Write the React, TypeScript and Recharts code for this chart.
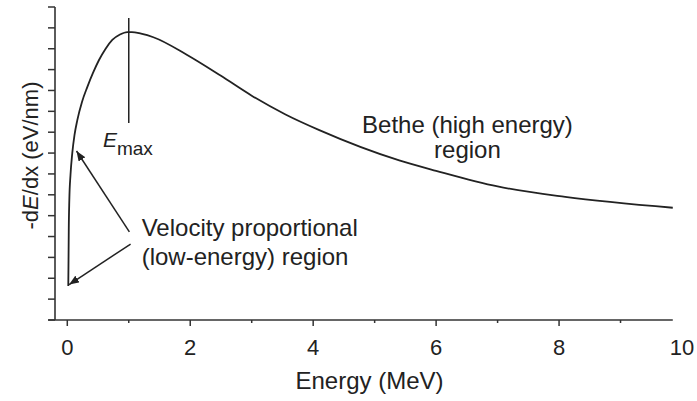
import React from "react";
import {
  LineChart,
  Line,
  XAxis,
  YAxis,
  ReferenceLine,
  ReferenceDot,
} from "recharts";

// Energy (MeV) and stopping power -dE/dx (arbitrary eV/nm units)
const energy = [0.016, 0.02, 0.024, 0.033, 0.052, 0.081, 0.117, 0.163, 0.239, 0.325, 0.418, 0.516, 0.621, 0.732, 0.857, 0.976, 1.05, 1.2, 1.4, 1.95, 2.5, 3.0, 3.55, 4.1, 5.4, 6.0, 7.0, 8.1, 9.85];
const stopping = [1.63, 2.87, 4.31, 5.75, 6.95, 8.0, 8.86, 9.58, 10.45, 11.16, 11.84, 12.46, 12.99, 13.42, 13.68, 13.8, 13.8, 13.72, 13.55, 12.7, 11.7, 10.75, 9.85, 9.1, 7.65, 7.15, 6.4, 5.9, 5.38];

const xTicks = [0, 1, 2, 3, 4, 5, 6, 7, 8, 9, 10];
const yTicks = [0, 1, 2, 3, 4, 5, 6, 7, 8, 9, 10, 11, 12, 13, 14, 15];
const xDomain = [-0.2, 10];
const yDomain = [0, 15];
const xAxisEnd = [-0.31, 9.85];

const emaxLine = [
  { x: 1, y: 14.47 },
  { x: 1, y: 9.44 },
];
const arrows = [
  [{ x: 1.01, y: 4.22 }, { x: 0.15, y: 8.1 }],
  [{ x: 1.03, y: 3.64 }, { x: 0.03, y: 1.7 }],
];
const emaxLabel = { x: 0.58, y: 8.29 };
const velocityLines = [
  { x: 1.21, y: 4.02, text: "Velocity proportional" },
  { x: 1.21, y: 2.64, text: "(low-energy) region" },
];
const betheLines = [
  { x: 6.51, y: 8.95, text: "Bethe (high energy)" },
  { x: 6.51, y: 7.75, text: "region" },
];

const data = energy.map((e, i) => ({ energy: e, dedx: stopping[i] }));

const FONT = "'Liberation Sans', Arial, Helvetica, sans-serif";
const INK = "#222";
const AXIS = "#333";

const XTick = (props: any) => {
  const { x, y, payload } = props;
  const v = payload.value as number;
  const major = v % 2 === 0;
  return (
    <g>
      {v < 10 && (
        <line x1={x} x2={x} y1={y} y2={y + (major ? 6 : 3)} stroke={AXIS} strokeWidth={1.5} />
      )}
      {major && (
        <text x={x} y={y + 35} textAnchor="middle" fontSize={22} fontFamily={FONT} fill={INK}>
          {v}
        </text>
      )}
    </g>
  );
};

const NoTick = () => <g />;

const makeText =
  (text: string, anchor: "start" | "middle", size = 24) =>
  (p: any) =>
    (
      <text x={p.cx} y={p.cy} textAnchor={anchor} fontSize={size} fontFamily={FONT} fill={INK}>
        {text}
      </text>
    );

const emaxShape = (p: any) => (
  <text x={p.cx} y={p.cy} fontFamily={FONT} fill={INK}>
    <tspan fontSize={21} fontStyle="italic">E</tspan>
    <tspan fontSize={19} dy={8}>max</tspan>
  </text>
);

const arrowShape = (p: any) => (
  <line
    x1={p.x1}
    y1={p.y1}
    x2={p.x2}
    y2={p.y2}
    stroke={INK}
    strokeWidth={1.5}
    markerEnd="url(#arrowHead)"
  />
);

export default function App() {
  return (
    <div style={{ position: "absolute", left: 0, top: 0, background: "#fff" }}>
      <LineChart
        width={697}
        height={401}
        data={data}
        margin={{ top: 7, right: 15, bottom: 0, left: 0 }}
      >
        <defs>
          <marker
            id="arrowHead"
            viewBox="0 0 10 8"
            refX={10}
            refY={4}
            markerWidth={10}
            markerHeight={8}
            markerUnits="userSpaceOnUse"
            orient="auto"
          >
            <path d="M0,0 L10,4 L0,8 z" fill={INK} />
          </marker>
        </defs>
        <XAxis
          dataKey="energy"
          type="number"
          domain={xDomain}
          ticks={xTicks}
          interval={0}
          height={81}
          axisLine={false}
          tickLine={false}
          tickSize={0}
          tickMargin={0}
          tick={<XTick />}
          allowDataOverflow
          label={{
            content: (p: any) => {
              const vb = p.viewBox || { x: 55, y: 320, width: 627, height: 81 };
              return (
                <text
                  x={vb.x + vb.width / 2 + 1}
                  y={vb.y + 69}
                  textAnchor="middle"
                  fontSize={24}
                  fontFamily={FONT}
                  fill={INK}
                >
                  Energy (MeV)
                </text>
              );
            },
          }}
        />
        <YAxis
          type="number"
          domain={yDomain}
          ticks={yTicks}
          interval={0}
          width={55}
          axisLine={{ stroke: AXIS, strokeWidth: 1.6 }}
          tickLine={{ stroke: AXIS, strokeWidth: 1.5 }}
          tickSize={7}
          tick={<NoTick />}
          allowDataOverflow
          label={{
            content: (p: any) => {
              const vb = p.viewBox || { x: 0, y: 7, width: 55, height: 313 };
              const cx = 38;
              const cy = vb.y + vb.height / 2 - 8;
              return (
                <text
                  x={cx}
                  y={cy}
                  transform={`rotate(-90, ${cx}, ${cy})`}
                  textAnchor="middle"
                  fontSize={22}
                  fontFamily={FONT}
                  fill={INK}
                >
                  -d<tspan fontStyle="italic">E</tspan>/dx (eV/nm)
                </text>
              );
            },
          }}
        />
        <ReferenceLine
          segment={[
            { x: xAxisEnd[0], y: 0 },
            { x: xAxisEnd[1], y: 0 },
          ]}
          stroke={AXIS}
          strokeWidth={1.6}
          ifOverflow="visible"
        />
        <Line
          type="monotone"
          dataKey="dedx"
          stroke={INK}
          strokeWidth={1.8}
          dot={false}
          activeDot={false}
          isAnimationActive={false}
        />
        <ReferenceLine segment={emaxLine} stroke={INK} strokeWidth={1.5} ifOverflow="visible" />
        {arrows.map((a, i) => (
          <ReferenceLine
            key={`arrow-${i}`}
            segment={a}
            stroke={INK}
            strokeWidth={1.5}
            ifOverflow="visible"
            shape={arrowShape}
          />
        ))}
        <ReferenceDot
          x={emaxLabel.x}
          y={emaxLabel.y}
          r={1}
          ifOverflow="visible"
          shape={emaxShape}
        />
        {velocityLines.map((t, i) => (
          <ReferenceDot
            key={`vel-${i}`}
            x={t.x}
            y={t.y}
            r={1}
            ifOverflow="visible"
            shape={makeText(t.text, "start")}
          />
        ))}
        {betheLines.map((t, i) => (
          <ReferenceDot
            key={`bethe-${i}`}
            x={t.x}
            y={t.y}
            r={1}
            ifOverflow="visible"
            shape={makeText(t.text, "middle")}
          />
        ))}
      </LineChart>
    </div>
  );
}
